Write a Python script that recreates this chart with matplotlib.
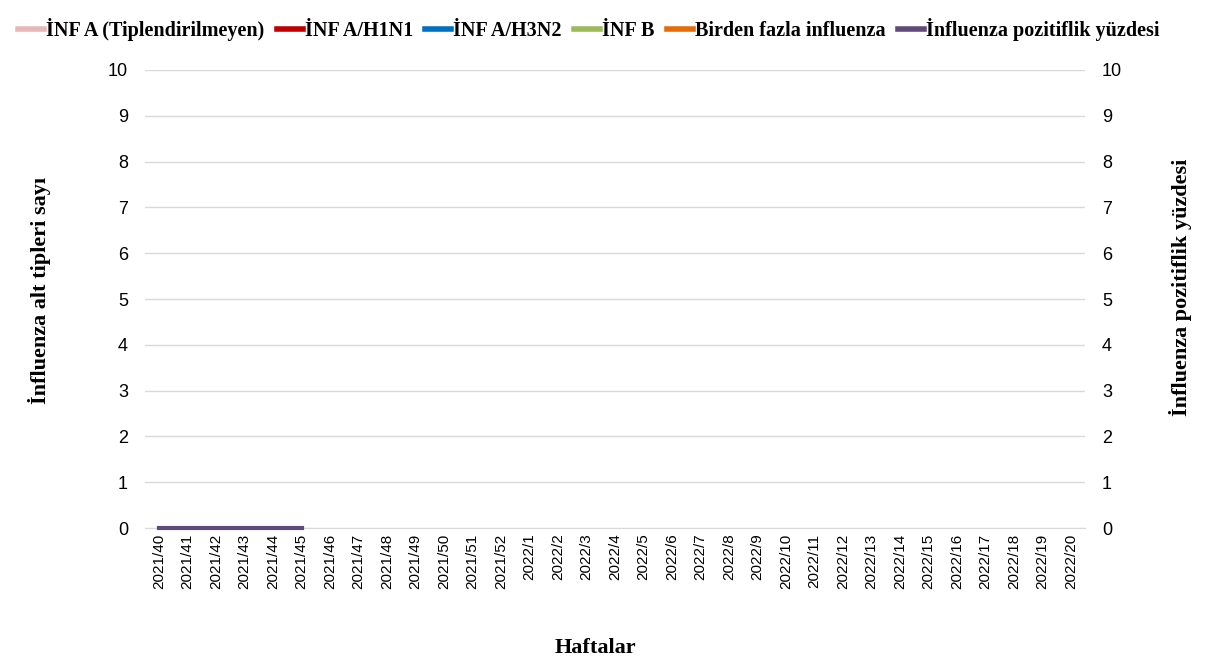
import matplotlib.pyplot as plt
import numpy as np

plt.rcParams["font.family"] = ["Liberation Serif", "DejaVu Serif"]

weeks = [f"2021/{w}" for w in range(40, 53)] + [f"2022/{w}" for w in range(1, 21)]
inf_a = [0] * len(weeks)
h1n1 = [0] * len(weeks)
h3n2 = [0] * len(weeks)
inf_b = [0] * len(weeks)
multi = [0] * len(weeks)
positivity = [0, 0, 0, 0, 0, 0]  # only weeks 2021/40-45 reported

series = [
    ("İNF A (Tiplendirilmeyen)", inf_a, "#e6b9b8"),
    ("İNF A/H1N1", h1n1, "#c00000"),
    ("İNF A/H3N2", h3n2, "#0070c0"),
    ("İNF B", inf_b, "#9bbb59"),
    ("Birden fazla influenza", multi, "#e46c0a"),
]

fig = plt.figure(figsize=(12.06, 6.66), dpi=100)
ax = fig.add_axes([0.12, 0.207, 0.78, 0.688])
ax2 = ax.twinx()

x = np.arange(len(weeks))
bottom = np.zeros(len(weeks))
handles = []
for name, vals, col in series:
    ax.bar(x, vals, 0.6, bottom=bottom, color=col)
    bottom += np.array(vals)
    handles.append(plt.Line2D([], [], color=col, lw=4, label=name))

ax2.plot(x[:len(positivity)], positivity, color="#604a7b", lw=3, clip_on=False)
handles.append(plt.Line2D([], [], color="#604a7b", lw=4, label="İnfluenza pozitiflik yüzdesi"))

for a in (ax, ax2):
    a.set_ylim(0, 10)
    a.set_yticks(range(11))
    a.tick_params(length=0, labelsize=13, pad=12)
    for lbl in a.get_yticklabels():
        lbl.set_family("Liberation Sans")
    for s in a.spines.values():
        s.set_visible(False)
ax.set_xlim(-0.5, len(weeks) - 0.5)
ax.grid(axis="y", color="#d9d9d9", lw=1)
ax.set_axisbelow(True)
ax.set_xticks(x)
ax.set_xticklabels(weeks, rotation=90, fontsize=11, family="Liberation Sans")
ax.tick_params(axis="x", pad=4)
ax.spines["bottom"].set_visible(True)
ax.spines["bottom"].set_color("#d9d9d9")

fig.text(40 / 1206, 1 - 290 / 666, "İnfluenza alt tipleri sayı", rotation=90,
         ha="center", va="center", fontsize=16, fontweight="bold")
fig.text(1180 / 1206, 1 - 287 / 666, "İnfluenza pozitiflik yüzdesi", rotation=90,
         ha="center", va="center", fontsize=16, fontweight="bold")
fig.text(595 / 1206, 1 - 648 / 666, "Haftalar", ha="center", va="center",
         fontsize=16, fontweight="bold")

fig.legend(handles=handles, loc="upper left", bbox_to_anchor=(0.0, 1.0), ncol=6,
           frameon=False, handlelength=1.3, handletextpad=0.1, columnspacing=0.6,
           prop={"weight": "bold", "size": 14.5})

fig.savefig("out.png", dpi=100)
